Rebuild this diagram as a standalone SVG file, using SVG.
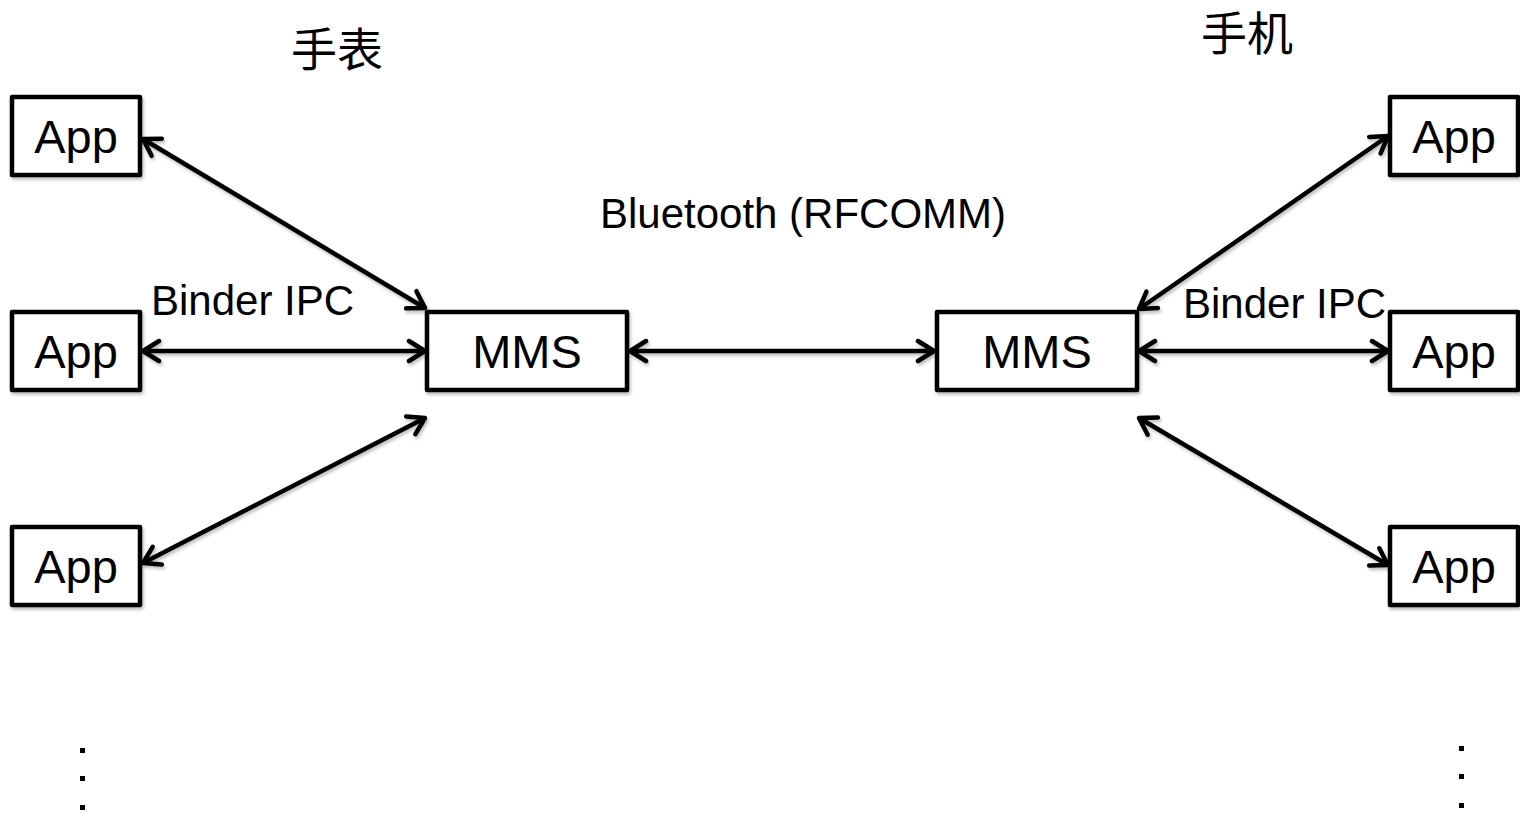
<svg xmlns="http://www.w3.org/2000/svg" width="1520" height="813" viewBox="0 0 1520 813">
<style>
.box{fill:#fff;stroke:#000;stroke-width:4.5;stroke-linejoin:round}
.lbl{font-family:"Liberation Sans",Arial,sans-serif;font-size:47px;fill:#000;text-anchor:middle}
.small{font-family:"Liberation Sans",Arial,sans-serif;font-size:42px;fill:#000}
.cjk{font-family:"Liberation Sans","Noto Sans CJK SC",sans-serif;font-size:46px;fill:#000;text-anchor:middle}
.conn{stroke:#000;stroke-width:4.5;fill:none;marker-start:url(#arr);marker-end:url(#arr)}
.dot{fill:#000}
</style>
<defs>
<filter id="sh" x="-10%" y="-10%" width="130%" height="140%">
<feDropShadow dx="1.5" dy="2.5" stdDeviation="1.5" flood-color="#000" flood-opacity="0.25"/>
</filter>
<marker id="arr" viewBox="-20 -14 23 28" refX="0" refY="0" markerWidth="23" markerHeight="28" markerUnits="userSpaceOnUse" orient="auto-start-reverse">
<path d="M -16 -10 L 0 0 L -16 10" fill="none" stroke="#000" stroke-width="4.5" stroke-linecap="round" stroke-linejoin="round"/>
</marker>
</defs>
<rect width="1520" height="813" fill="#fff"/>

<g id="connectors" filter="url(#sh)">
<line class="conn" x1="143" y1="139" x2="425" y2="308"/>
<line class="conn" x1="143" y1="351" x2="425" y2="351"/>
<line class="conn" x1="143" y1="563" x2="425" y2="418"/>
<line class="conn" x1="630" y1="351" x2="934" y2="351"/>
<line class="conn" x1="1139" y1="309" x2="1388" y2="136"/>
<line class="conn" x1="1139" y1="351" x2="1388" y2="351"/>
<line class="conn" x1="1139" y1="418" x2="1388" y2="565"/>
</g>

<g id="app-l1"><rect class="box" x="12" y="97" width="128" height="78" filter="url(#sh)"/><text class="lbl" x="76" y="153">App</text></g>
<g id="app-l2"><rect class="box" x="12" y="312" width="128" height="78" filter="url(#sh)"/><text class="lbl" x="76" y="368">App</text></g>
<g id="app-l3"><rect class="box" x="12" y="527" width="128" height="78" filter="url(#sh)"/><text class="lbl" x="76" y="583">App</text></g>
<g id="mms-l"><rect class="box" x="427" y="312" width="200" height="78" filter="url(#sh)"/><text class="lbl" x="527" y="368">MMS</text></g>
<g id="mms-r"><rect class="box" x="937" y="312" width="200" height="78" filter="url(#sh)"/><text class="lbl" x="1037" y="368">MMS</text></g>
<g id="app-r1"><rect class="box" x="1390" y="97" width="128" height="78" filter="url(#sh)"/><text class="lbl" x="1454" y="153">App</text></g>
<g id="app-r2"><rect class="box" x="1390" y="312" width="128" height="78" filter="url(#sh)"/><text class="lbl" x="1454" y="368">App</text></g>
<g id="app-r3"><rect class="box" x="1390" y="527" width="128" height="78" filter="url(#sh)"/><text class="lbl" x="1454" y="583">App</text></g>

<g id="labels">
<text class="cjk" x="337" y="66">手表</text>
<text class="cjk" x="1247" y="50">手机</text>
<text class="small" x="803" y="228" text-anchor="middle">Bluetooth (RFCOMM)</text>
<text class="small" x="151" y="315">Binder IPC</text>
<text class="small" x="1183" y="318">Binder IPC</text>
</g>

<g id="ellipsis-l">
<rect class="dot" x="80" y="748" width="5" height="5"/>
<rect class="dot" x="80" y="776" width="5" height="5"/>
<rect class="dot" x="80" y="805" width="5" height="5"/>
</g>
<g id="ellipsis-r">
<rect class="dot" x="1459" y="746" width="5" height="5"/>
<rect class="dot" x="1459" y="774" width="5" height="5"/>
<rect class="dot" x="1459" y="803" width="5" height="5"/>
</g>
</svg>
